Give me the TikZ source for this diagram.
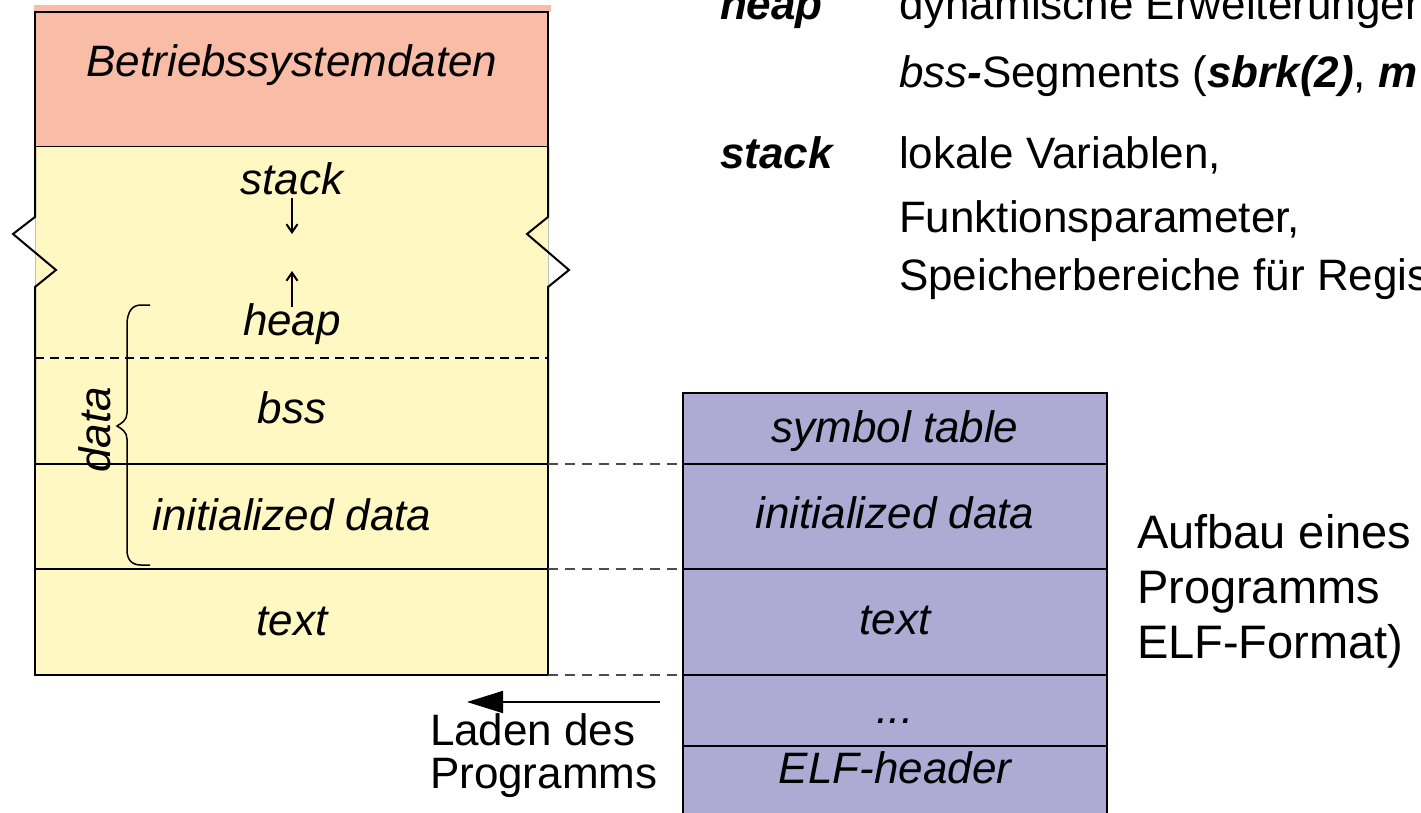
\documentclass[tikz,border=0pt]{standalone}
\usepackage{fontspec}
\setmainfont{Liberation Sans}
\usetikzlibrary{arrows.meta}
\definecolor{osred}{HTML}{F9BDA7}
\definecolor{memyel}{HTML}{FFF8C2}
\definecolor{elfpur}{HTML}{AFAAD3}
\newcommand\lblfont{\fontsize{44}{48}\selectfont}
\newcommand\capfont{\fontsize{47}{52}\selectfont}
\begin{document}
\begin{tikzpicture}[x=1pt,y=-1pt,
  cellL/.style={rectangle, inner sep=0pt, outer sep=0pt, minimum width=513pt, anchor=north west, fill=memyel},
  cellR/.style={rectangle, inner sep=0pt, outer sep=0pt, minimum width=424pt, anchor=north west, fill=elfpur, draw, line width=2pt},
  border/.style={line width=2pt, black},
  lbl/.style={inner sep=0pt, outer sep=0pt, anchor=base, font=\lblfont\itshape},
  txt/.style={inner sep=0pt, outer sep=0pt, anchor=base west, font=\lblfont},
  conn/.style={line width=1.4pt, black!70, dash pattern=on 10pt off 7pt},
  growarrow/.style={line width=2pt, -{Straight Barb[length=8pt,width=11pt]}},
  loadarrow/.style={line width=1.8pt, -{Triangle[length=36pt,width=22pt]}}
]
\useasboundingbox (0,0) rectangle (1421,813);
\clip (0,0) rectangle (1421,813);

% ---- left memory image ----
\fill[osred] (34,5) rectangle (551,12);
\node[cellL, fill=osred, draw, line width=2pt, minimum height=135pt] (os) at (35,12) {};
\node[cellL, minimum height=211pt] (sh) at (35,147) {};
\node[cellL, minimum height=106pt] (bss) at (35,358) {};
\node[cellL, draw, line width=2pt, minimum height=105pt] (idata) at (35,464) {};
\node[cellL, draw, line width=2pt, minimum height=106pt] (text) at (35,569) {};

% side borders with break marks
\draw[black!25, line width=1pt] (35,217) -- (35,287) (548,217) -- (548,287);
\draw[border] (sh.north west) -- (35,217) -- (13,234) -- (56,270) -- (35,287) -- (bss.south west);
\draw[border] (sh.north east) -- (548,217) -- (527,234) -- (569,270) -- (548,287) -- (bss.south east);
% dashed heap/bss boundary
\draw[white, line width=2pt] (sh.south west) -- (sh.south east);
\draw[border, dash pattern=on 9pt off 6pt] (sh.south west) -- (sh.south east);

% labels in the memory image
\node[lbl] (osl) at (292,77) {Betriebssystemdaten};
\node[lbl] (stackl) at (292,195) {stack};
\node[lbl] (heapl) at (292,335) {heap};
\node[lbl] (bssl) at (292,423) {bss};
\node[lbl] (idatal) at (292,530) {initialized data};
\node[lbl] (textl) at (292,635) {text};
\coordinate (sd1) at (292,198);
\coordinate (sd2) at (292,234);
\coordinate (hu1) at (292,307);
\coordinate (hu2) at (292,271);
\draw[growarrow] (sd1) -- (sd2);
\draw[growarrow] (hu1) -- (hu2);

% data brace
\draw[line width=1.5pt] (150,305) -- (141,305) .. controls (132,305) and (127,312) .. (127,325)
  -- (127,413) .. controls (127,420) and (122,423) .. (117,426)
  .. controls (122,429) and (127,432) .. (127,439)
  -- (127,550) .. controls (127,560) and (132,565) .. (141,565) -- (150,565);
\node[inner sep=0pt, rotate=90, font=\lblfont\itshape] (datal) at (95,430) {data};

% ---- ELF file ----
\node[cellR, minimum height=71pt] (sym) at (683,393) {};
\node[cellR, minimum height=105pt] (pidata) at (683,464) {};
\node[cellR, minimum height=106pt] (ptext) at (683,569) {};
\node[cellR, minimum height=71pt] (dots) at (683,675) {};
\node[cellR, minimum height=80pt] (elf) at (683,746) {};
\node[lbl] (syml) at (895,442) {symbol table};
\node[lbl] (pidatal) at (895,528) {initialized data};
\node[lbl] (ptextl) at (895,634) {text};
\node[lbl] (dotsl) at (895,723) {...};
\node[lbl] (elfl) at (895,783) {ELF-header};

% dashed correspondences
\draw[conn] (idata.north east) -- (pidata.north west);
\draw[conn] (text.north east) -- (ptext.north west);
\draw[conn] (text.south east) -- (dots.north west);

% loading arrow
\coordinate (ld1) at (660,702);
\coordinate (ld2) at (467,702);
\draw[loadarrow] (ld1) -- (ld2);
\node[txt] (laden1) at (430,745) {Laden des};
\node[txt] (laden2) at (430,788) {Programms};

% ---- explanations at top right ----
\node[txt, font=\lblfont\bfseries\itshape] (heapk) at (720,20) {heap};
\node[txt] (heapd1) at (899,20) {dynamische Erweiterungen};
\node[txt] (heapd2) at (899,88) {\textit{bss}\textbf{\textit{-}}Segments (\textbf{\textit{sbrk(2)}}, \textbf{\textit{m}}};
\node[txt, font=\lblfont\bfseries\itshape] (stackk) at (720,169) {stack};
\node[txt] (stackd1) at (899,169) {lokale Variablen,};
\node[txt] (stackd2) at (899,233) {Funktionsparameter,};
\node[txt] (stackd3) at (899,290) {Speicherbereiche für Regis};

% caption at right
\node[txt, font=\capfont] (cap1) at (1137,548) {Aufbau eines};
\node[txt, font=\capfont] (cap2) at (1137,603) {Programms};
\node[txt, font=\capfont] (cap3) at (1137,658) {ELF-Format)};
\end{tikzpicture}
\end{document}
